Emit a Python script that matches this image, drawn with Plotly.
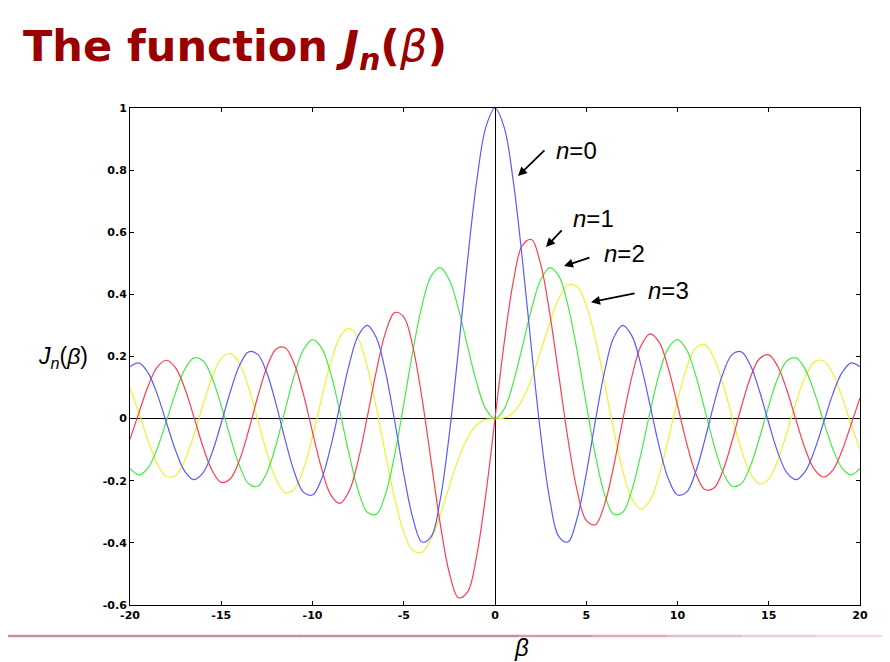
import plotly.graph_objects as go

# beta grid, step 0.5 from -20 to 20
beta = [round(-20 + 0.5 * i, 1) for i in range(81)]

J0 = [0.1670, 0.1789, 0.1466, 0.0772, -0.0134, -0.1031, -0.1699, -0.1964, -0.1749, -0.1092,
      -0.0142, 0.0875, 0.1711, 0.2150, 0.2069, 0.1469, 0.0477, -0.0677, -0.1712, -0.2366,
      -0.2459, -0.1939, -0.0903, 0.0419, 0.1717, 0.2663, 0.3001, 0.2601, 0.1506, -0.0068,
      -0.1776, -0.3205, -0.3971, -0.3801, -0.2601, -0.0484, 0.2239, 0.5118, 0.7652, 0.9385,
      1.0000,
      0.9385, 0.7652, 0.5118, 0.2239, -0.0484, -0.2601, -0.3801, -0.3971, -0.3205, -0.1776,
      -0.0068, 0.1506, 0.2601, 0.3001, 0.2663, 0.1717, 0.0419, -0.0903, -0.1939, -0.2459,
      -0.2366, -0.1712, -0.0677, 0.0477, 0.1469, 0.2069, 0.2150, 0.1711, 0.0875, -0.0142,
      -0.1092, -0.1749, -0.1964, -0.1699, -0.1031, -0.0134, 0.0772, 0.1466, 0.1789, 0.1670]

J1 = [-0.0668, 0.0209, 0.1057, 0.1666, 0.1880, 0.1634, 0.0977, 0.0058, -0.0904, -0.1672,
      -0.2051, -0.1934, -0.1334, -0.0381, 0.0703, 0.1655, 0.2234, 0.2284, 0.1768, 0.0789,
      -0.0435, -0.1612, -0.2453, -0.2731, -0.2346, -0.1353, 0.0047, 0.1538, 0.2767, 0.3414,
      0.3276, 0.2311, 0.0660, -0.1374, -0.3391, -0.4971, -0.5767, -0.5579, -0.4401, -0.2423,
      0.0000,
      0.2423, 0.4401, 0.5579, 0.5767, 0.4971, 0.3391, 0.1374, -0.0660, -0.2311, -0.3276,
      -0.3414, -0.2767, -0.1538, -0.0047, 0.1353, 0.2346, 0.2731, 0.2453, 0.1612, 0.0435,
      -0.0789, -0.1768, -0.2284, -0.2234, -0.1655, -0.0703, 0.0381, 0.1334, 0.1934, 0.2051,
      0.1672, 0.0904, -0.0058, -0.0977, -0.1634, -0.1880, -0.1666, -0.1057, -0.0209, 0.0668]

J2 = [-0.1603, -0.1810, -0.1577, -0.0952, -0.0075, 0.0844, 0.1584, 0.1957, 0.1862, 0.1308,
      0.0416, -0.0608, -0.1520, -0.2094, -0.2177, -0.1734, -0.0849, 0.0279, 0.1390, 0.2216,
      0.2546, 0.2279, 0.1448, 0.0223, -0.1130, -0.2303, -0.3014, -0.3074, -0.2429, -0.1173,
      0.0466, 0.2179, 0.3641, 0.4586, 0.4861, 0.4461, 0.3528, 0.2321, 0.1149, 0.0306,
      0.0000,
      0.0306, 0.1149, 0.2321, 0.3528, 0.4461, 0.4861, 0.4586, 0.3641, 0.2179, 0.0466,
      -0.1173, -0.2429, -0.3074, -0.3014, -0.2303, -0.1130, 0.0223, 0.1448, 0.2279, 0.2546,
      0.2216, 0.1390, 0.0279, -0.0849, -0.1734, -0.2177, -0.2094, -0.1520, -0.0608, 0.0416,
      0.1308, 0.1862, 0.1957, 0.1584, 0.0844, -0.0075, -0.0952, -0.1577, -0.1810, -0.1603]

J3 = [0.0989, 0.0162, -0.0725, -0.1460, -0.1863, -0.1827, -0.1350, -0.0532, 0.0438, 0.1335,
      0.1940, 0.2102, 0.1768, 0.1001, -0.0033, -0.1100, -0.1951, -0.2381, -0.2273, -0.1633,
      -0.0584, 0.0653, 0.1809, 0.2626, 0.2911, 0.2581, 0.1676, 0.0354, -0.1148, -0.2561,
      -0.3648, -0.4247, -0.4302, -0.3868, -0.3091, -0.2166, -0.1289, -0.0610, -0.0196, -0.0026,
      0.0000,
      0.0026, 0.0196, 0.0610, 0.1289, 0.2166, 0.3091, 0.3868, 0.4302, 0.4247, 0.3648,
      0.2561, 0.1148, -0.0354, -0.1676, -0.2581, -0.2911, -0.2626, -0.1809, -0.0653, 0.0584,
      0.1633, 0.2273, 0.2381, 0.1951, 0.1100, 0.0033, -0.1001, -0.1768, -0.2102, -0.1940,
      -0.1335, -0.0438, 0.0532, 0.1350, 0.1827, 0.1863, 0.1460, 0.0725, -0.0162, -0.0989]

x_ticks = [-20, -15, -10, -5, 0, 5, 10, 15, 20]
x_ticktext = ["-20", "-15", "-10", "-5", "0", "5", "10", "15", "20"]
y_ticks = [-0.6, -0.4, -0.2, 0, 0.2, 0.4, 0.6, 0.8, 1]
y_ticktext = ["-0.6", "-0.4", "-0.2", "0", "0.2", "0.4", "0.6", "0.8", "1"]

series = [("n=3", J3, "rgb(240,240,50)"),
          ("n=2", J2, "rgb(70,235,70)"),
          ("n=1", J1, "rgb(255,60,80)"),
          ("n=0", J0, "rgb(90,90,255)")]

fig = go.Figure()
for name, ys, col in series:
    fig.add_trace(go.Scatter(x=beta, y=ys, mode="lines", name=name,
                             line=dict(color=col, width=1.2, shape="spline", smoothing=1.0),
                             showlegend=False, hoverinfo="skip"))

# page body has an 8px margin, so the figure is 8px smaller and shifted
OFF = 8
W, H = 890 - OFF, 662 - OFF
L, T = 130 - OFF, 108 - OFF
pw, ph = 730, 497
R, B = W - L - pw, H - T - ph


def px(xp):
    return (xp - OFF - L) / pw


def py(yp):
    return (H - B - (yp - OFF)) / ph


annotations = []
title_txt = "<b>The function <i>J<sub>n</sub></i>(</b><i>β</i><b>)</b>"
annotations.append(dict(text=title_txt, xref="paper", yref="paper", x=px(21), y=py(49),
                        xanchor="left", yanchor="middle", showarrow=False,
                        font=dict(family="DejaVu Sans", size=43, color="#990000")))
# y label
annotations.append(dict(text="<i>J<sub>n</sub></i>(<i>β</i>)", xref="paper", yref="paper",
                        x=px(63), y=py(357), xanchor="center", yanchor="middle", showarrow=False,
                        font=dict(family="Liberation Sans", size=23, color="black")))
# x label
annotations.append(dict(text="<i>β</i>", xref="paper", yref="paper",
                        x=px(521), y=py(647), xanchor="center", yanchor="middle", showarrow=False,
                        font=dict(family="Liberation Sans", size=24, color="black")))

# curve labels (data coords)
labels = [("<i>n</i>=0", 4.49, 0.864), ("<i>n</i>=1", 5.37, 0.643),
          ("<i>n</i>=2", 7.07, 0.533), ("<i>n</i>=3", 9.48, 0.414)]
for t, lx, ly in labels:
    annotations.append(dict(text=t, x=lx, y=ly, xref="x", yref="y", showarrow=False,
                            xanchor="center", yanchor="middle",
                            font=dict(family="Liberation Sans", size=24, color="black")))
arrows = [(1.26, 0.781, 2.79, 0.868), (2.79, 0.5525, 3.73, 0.6105),
          (3.78, 0.491, 5.26, 0.520), (5.26, 0.375, 7.73, 0.404)]
for hx, hy, tx, ty in arrows:
    annotations.append(dict(text="", x=hx, y=hy, ax=tx, ay=ty, xref="x", yref="y",
                            axref="x", ayref="y", showarrow=True, arrowhead=2,
                            arrowsize=1.0, arrowwidth=1.8, arrowcolor="black", standoff=0))

# bottom decorative pink rule (fading to the right)
shapes = []
segs = 12
for i in range(segs):
    x0 = i * 890 / segs
    x1 = (i + 1) * 890 / segs
    alpha = 0.75 if i < 7 else 0.75 * (1 - (i - 6) / (segs - 5))
    shapes.append(dict(type="line", xref="paper", yref="paper", x0=px(x0), x1=px(x1),
                       y0=py(636), y1=py(636),
                       line=dict(color=f"rgba(190,100,125,{alpha:.2f})", width=2.5)))

axis_common = dict(showgrid=False, showline=True, linecolor="black", linewidth=1,
                   mirror="allticks", ticks="inside", ticklen=4, tickcolor="black",
                   zeroline=True, zerolinecolor="black", zerolinewidth=1,
                   tickfont=dict(family="DejaVu Sans", size=11, color="black", weight="bold"))

fig.update_layout(
    width=W, height=H,
    margin=dict(l=L, r=R, t=T, b=B),
    paper_bgcolor="white", plot_bgcolor="white",
    xaxis=dict(range=[-20, 20], tickmode="array", tickvals=x_ticks, ticktext=x_ticktext,
               ticklabelstandoff=0, **axis_common),
    yaxis=dict(range=[-0.6, 1], tickmode="array", tickvals=y_ticks, ticktext=y_ticktext,
               ticklabelstandoff=0, **axis_common),
    annotations=annotations,
    shapes=shapes,
)

fig.write_html("out.html")
